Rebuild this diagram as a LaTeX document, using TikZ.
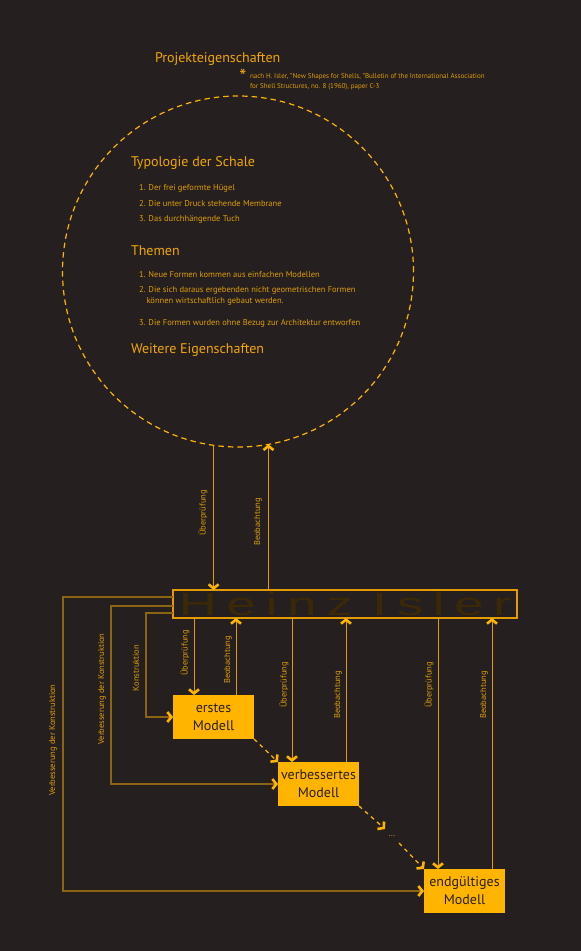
\documentclass[tikz,border=0pt]{standalone}
\usepackage{fontspec}
\setmainfont{PT Sans}
\newfontfamily\heinzfont{Liberation Sans}
\usetikzlibrary{arrows.meta}
\definecolor{bg}{HTML}{25201F}
\definecolor{org}{HTML}{FFB400}
\definecolor{orgline}{HTML}{E39C00}
\definecolor{orgtext}{HTML}{F2A700}
\definecolor{orgsmall}{HTML}{E09E00}
\definecolor{orgdark}{HTML}{8C6512}
\definecolor{heinzcol}{HTML}{3A2806}
\definecolor{boxtext}{HTML}{2A2010}
\tikzset{
  head/.style={anchor=west, text=orgtext, font=\fontsize{14}{15}\selectfont},
  item/.style={anchor=west, text=orgsmall, font=\fontsize{8.5}{11}\selectfont},
  lab/.style={text=orgsmall, font=\fontsize{8.5}{10}\selectfont, rotate=90},
  arr/.style={draw=orgline, line width=1pt, -{Straight Barb[length=4pt,width=10pt,line width=2.6pt,color=org]}},
  darkarr/.style={draw=orgdark, line width=1.2pt, -{Straight Barb[length=4pt,width=10pt,line width=2.6pt,color=org]}},
  dasharr/.style={draw=org, line width=1.3pt, dash pattern=on 4pt off 4pt, -{Straight Barb[length=4pt,width=10pt,line width=2.6pt,color=org]}},
  mbox/.style={fill=org, text=boxtext, font=\fontsize{14}{18}\selectfont, align=center, minimum width=81pt, minimum height=44pt},
}
\newcommand\hzsp{\hspace{6pt}}
\begin{document}
\begin{tikzpicture}[x=1pt,y=-1pt, every node/.style={inner sep=0pt, outer sep=0pt}]
\fill[bg] (0,0) rectangle (581,951);
\useasboundingbox (0,0) rectangle (581,951);

% title and footnote
\node[anchor=base west, text=orgtext, font=\fontsize{14}{16}\selectfont] (title) at (155,62) {Projekteigenschaften};
\node[text=orgtext, font=\fontsize{20}{20}\selectfont] (star) at (243,76) {*};
\node[anchor=north west, text=orgsmall, font=\fontsize{7}{10}\selectfont, align=left] (fn) at (250,73.5)
  {nach H. Isler, "New Shapes for Shells, "Bulletin of the International Association\\for Shell Structures, no. 8 (1960), paper C-3};

% circle
\node[circle, draw=org, dash pattern=on 5.5pt off 4pt, line width=1.2pt, minimum size=351pt] (circ) at (238,271.5) {};

\node[head] (typ) at (131,162.5) {Typologie der Schale};
\node[item] (t1) at (139,188) {1. Der frei geformte Hügel};
\node[item] (t2) at (139,203.5) {2. Die unter Druck stehende Membrane};
\node[item] (t3) at (139,219) {3. Das durchhängende Tuch};

\node[head] (them) at (131,250.5) {Themen};
\node[item] (h1) at (139,275) {1. Neue Formen kommen aus einfachen Modellen};
\node[item, anchor=north west, align=left] (h2) at (139,286) {2. Die sich daraus ergebenden nicht geometrischen Formen\\\hspace*{7.5pt}können wirtschaftlich gebaut werden.};
\node[item] (h3) at (139,323) {3. Die Formen wurden ohne Bezug zur Architektur entworfen};

\node[head] (weit) at (131,350.5) {Weitere Eigenschaften};

% Heinz Isler box
\node[draw=orgline, line width=1.5pt, minimum width=344pt, minimum height=28pt, anchor=north west, text=heinzcol] (heinz) at (173,590)
  {\resizebox{332pt}{23.5pt}{\fontsize{32}{32}\heinzfont\selectfont H\hzsp e\hzsp i\hzsp n\hzsp z\hzsp\hzsp I\hzsp s\hzsp l\hzsp e\hzsp r}};

% model boxes
\node[mbox] (erstes) at (213.5,717) {erstes\\Modell};
\node[mbox] (verb) at (318.5,784) {verbessertes\\Modell};
\node[mbox] (endg) at (464.5,891) {endgültiges\\Modell};
\node[text=org, font=\fontsize{8}{8}\selectfont, minimum width=14pt, minimum height=14pt] (dots) at (392,836) {...};

% x positions
\coordinate (x1) at (194,0);
\coordinate (x2) at (236,0);
\coordinate (x3) at (292,0);
\coordinate (x4) at (346,0);
\coordinate (x5) at (438,0);
\coordinate (x6) at (492,0);

% circle <-> Heinz
\draw[arr] (circ.-98.85) -- (circ.-98.85 |- heinz.north);
\draw[arr] (circ.-80.8 |- heinz.north) -- (circ.-80.8);
\node[lab] at (203,513) {Überprüfung};
\node[lab] at (258,522) {Beobachtung};

% Heinz <-> models
\draw[arr] (heinz.south -| x1) -- (erstes.north -| x1);
\draw[arr] (erstes.north -| x2) -- (heinz.south -| x2);
\draw[arr] (heinz.south -| x3) -- (verb.north -| x3);
\draw[arr] (verb.north -| x4) -- (heinz.south -| x4);
\draw[arr] (heinz.south -| x5) -- (endg.north -| x5);
\draw[arr] (endg.north -| x6) -- (heinz.south -| x6);
\node[lab] at (185,653) {Überprüfung};
\node[lab] at (228,660) {Beobachtung};
\node[lab] at (284,685) {Überprüfung};
\node[lab] at (338,695) {Beobachtung};
\node[lab] at (429,685) {Überprüfung};
\node[lab] at (484,695) {Beobachtung};

% left feedback lines
\draw[darkarr] ([yshift=-7pt]heinz.north west) -- ++(-110,0) |- (endg.west);
\draw[darkarr] ([yshift=-16pt]heinz.north west) -- ++(-62,0) |- (verb.west);
\draw[darkarr] ([yshift=-23pt]heinz.north west) -- ++(-27,0) |- (erstes.west);
\node[lab] at (53,740) {Verbesserung der Konstruktion};
\node[lab] at (102,689) {Verbesserung der Konstruktion};
\node[lab] at (136,668) {Konstruktion};

% dashed progression
\draw[dasharr] (erstes.south east) -- (verb.north west);
\draw[dasharr] (verb.south east) -- (dots.north west);
\draw[dasharr] (dots.south east) -- (endg.north west);
\end{tikzpicture}
\end{document}
